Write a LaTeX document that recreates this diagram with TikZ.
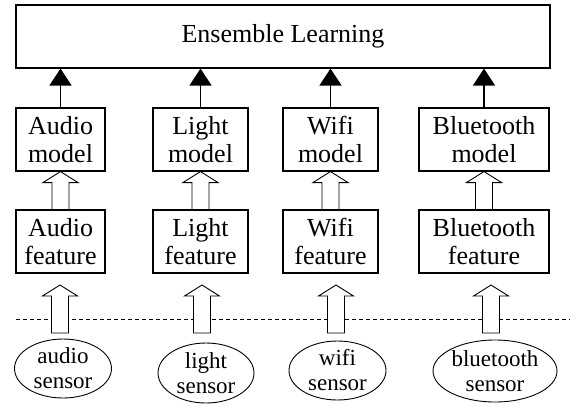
\documentclass[tikz,border=0pt]{standalone}
\usepackage{fontspec}
\setmainfont{Liberation Serif}
\usetikzlibrary{arrows.meta,calc,shapes.geometric}
\tikzset{
  box/.style={draw,line width=1.1pt,inner sep=0pt,align=center,minimum height=63pt,font=\fontsize{26}{28}\selectfont},
  sens/.style={draw,ellipse,line width=0.9pt,inner sep=0pt,align=center,font=\fontsize{23}{25}\selectfont},
  solid arrow/.style={line width=1.4pt,-{Triangle[width=22pt,length=17pt]}},
  hollow/.style={draw,line width=0.9pt,fill=white,line join=miter},
  sep line/.style={dashed,line width=0.8pt,dash pattern=on 4pt off 3pt}
}
\newcommand{\harrow}[2]{%
  \draw[hollow] ($(#1)+(-8.5pt,0)$) -- ($(#2)+(-8.5pt,-11pt)$) -- ($(#2)+(-17.5pt,-11pt)$) -- (#2)
    -- ($(#2)+(17.5pt,-11pt)$) -- ($(#2)+(8.5pt,-11pt)$) -- ($(#1)+(8.5pt,0)$) -- cycle;}
\begin{document}
\begin{tikzpicture}[x=1pt,y=-1pt]
\useasboundingbox[fill=white] (0,0) rectangle (580,408);
% top box
\node[box,minimum width=534pt] (ens) at (283,36.5) {Ensemble Learning};
% models
\node[box,minimum width=89pt] (am) at (60.5,139.5) {Audio\\model};
\node[box,minimum width=95pt] (lm) at (200.5,139.5) {Light\\model};
\node[box,minimum width=95pt] (wm) at (330.5,139.5) {Wifi\\model};
\node[box,minimum width=130pt] (bm) at (484,139.5) {Bluetooth\\model};
% features
\node[box,minimum width=89pt] (af) at (60.5,241.5) {Audio\\feature};
\node[box,minimum width=95pt] (lf) at (200.5,241.5) {Light\\feature};
\node[box,minimum width=95pt] (wf) at (330.5,241.5) {Wifi\\feature};
\node[box,minimum width=130pt] (bf) at (484,241.5) {Bluetooth\\feature};
% sensors
\node[sens,minimum width=97pt,minimum height=59pt] (as) at (63,368.5) {audio\\sensor};
\node[sens,minimum width=96pt,minimum height=60pt] (ls) at (206,373) {light\\sensor};
\node[sens,minimum width=97pt,minimum height=59pt] (ws) at (337.5,370.5) {wifi\\sensor};
\node[sens,minimum width=124pt,minimum height=62pt] (bs) at (495,371) {bluetooth\\sensor};
% solid arrows
\foreach \m in {am,lm,wm,bm}{
  \draw[solid arrow] (\m.north) -- (\m.north |- ens.south);
}
% hollow arrows feature -> model
\foreach \f/\m in {af/am,lf/lm,wf/wm,bf/bm}{
  \harrow{\f.north}{\f.north |- \m.south}
}
% dashed separator
\coordinate (dl) at (16,319);
\coordinate (dr) at (570,319);
\draw[sep line] (dl) -- (dr);
% hollow arrows sensor -> feature
\foreach \n/\x in {a/60,l/202,w/336,b/491}{
  \coordinate (\n0) at (\x,333);
  \coordinate (\n1) at (\x,285);
  \harrow{\n0}{\n1}
}
\end{tikzpicture}
\end{document}
